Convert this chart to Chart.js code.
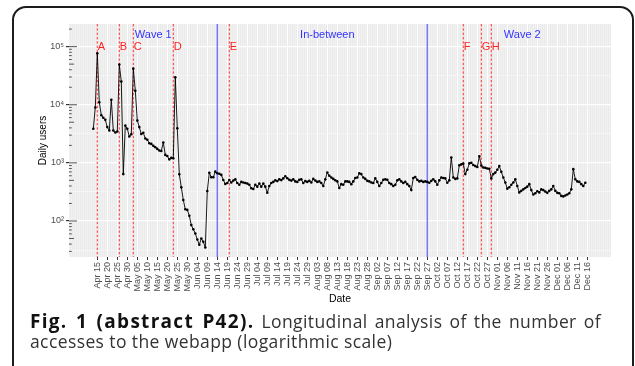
<!DOCTYPE html>
<html>
<head>
<meta charset="utf-8">
<script src="https://cdn.jsdelivr.net/npm/chart.js@4.4.1/dist/chart.umd.min.js"></script>
<style>
html,body{margin:0;padding:0;background:#fff;width:635px;height:366px;overflow:hidden;}
#frame{position:absolute;left:12px;top:5.5px;width:622px;height:390px;border:2px solid #1c1c1c;border-radius:14px;box-sizing:border-box;}
#chart{position:absolute;left:0;top:0;}
#caption{position:absolute;left:30px;top:310.6px;width:571px;font-family:'Open Sans',sans-serif;font-size:17.5px;line-height:20.6px;letter-spacing:0.4px;color:#333;}
#caption .l1{text-align:justify;text-align-last:justify;white-space:nowrap;}
#caption .l2{white-space:nowrap;}
#caption b{color:#111;font-weight:700;font-size:19px;letter-spacing:1.3px;}
</style>
</head>
<body>
<div id="frame"></div>
<canvas id="chart" width="635" height="310"></canvas>
<div id="caption"><div class="l1"><b>Fig. 1 (abstract P42).</b> Longitudinal analysis of the number of</div><div class="l2">accesses to the webapp (logarithmic scale)</div></div>
<script>
// ---- data (day 0 = Apr 15) ----
const firstDay = -2; // first observation: Apr 13
const dailyUsers = [
  3860, 8980, 77000, 11000, 6600, 5970, 5500, 4120, 3600, 12200,
  3600, 3320, 3470, 49000, 25000, 640, 4380, 3860, 2840, 3100,
  41800, 17400, 5330, 4120, 3130, 3290, 2630, 2500, 2180, 2120,
  1960, 1860, 1740, 1630, 1600, 2240, 1370, 1310, 1150, 1220,
  1200, 29700, 3940, 637, 380, 230, 159, 155, 123, 85,
  72, 61, 48, 39, 50, 44, 35, 328, 677, 565,
  565, 706, 662, 650, 620, 508, 434, 450, 508, 460,
  495, 520, 450, 420, 470, 460, 450, 440, 420, 365,
  355, 420, 390, 440, 390, 440, 390, 307, 400, 450,
  470, 500, 485, 520, 505, 540, 590, 545, 510, 495,
  520, 480, 470, 510, 520, 450, 485, 470, 490, 460,
  530, 495, 470, 480, 450, 400, 520, 680, 600, 560,
  530, 500, 480, 370, 430, 420, 480, 480, 470, 430,
  480, 550, 560, 660, 640, 560, 530, 490, 480, 460,
  450, 540, 470, 400, 450, 510, 520, 510, 450, 430,
  400, 420, 500, 520, 480, 450, 470, 430, 400, 340,
  550, 570, 510, 480, 490, 470, 480, 470, 455, 490,
  520, 480, 420, 500, 560, 550, 540, 455, 500, 1240,
  560, 530, 540, 910, 940, 970, 640, 760, 980, 1000,
  920, 880, 850, 1300, 900, 830, 820, 800, 790, 540,
  640, 680, 760, 880, 700, 560, 460, 360, 380, 420,
  460, 520, 400, 310, 330, 350, 370, 390, 430, 340,
  285, 300, 325, 310, 350, 340, 320, 305, 330, 350,
  400, 330, 305, 300, 270, 265, 275, 285, 300, 350,
  780, 520, 480, 470, 430, 400, 455
];
const xTickStep = 5;
const xTickLabels = ['Apr 15','Apr 20','Apr 25','Apr 30','May 05','May 10','May 15','May 20','May 25','May 30',
  'Jun 04','Jun 09','Jun 14','Jun 19','Jun 24','Jun 29','Jul 04','Jul 09','Jul 14','Jul 19',
  'Jul 24','Jul 29','Aug 03','Aug 08','Aug 13','Aug 18','Aug 23','Aug 28','Sep 02','Sep 07',
  'Sep 12','Sep 17','Sep 22','Sep 27','Oct 02','Oct 07','Oct 12','Oct 17','Oct 22','Oct 27',
  'Nov 01','Nov 06','Nov 11','Nov 16','Nov 21','Nov 26','Dec 01','Dec 06','Dec 11','Dec 16'];
const eventLetters = ['A','B','C','D','E','F','G','H'];
const eventDays = [0, 11, 18, 38, 66, 183, 192, 197];
const eventLabelY = 100000;
const phaseBoundaryDays = [60, 165];
const phaseNames = ['Wave 1','In-between','Wave 2'];
const phaseLabelDays = [28, 115, 212.5];
const phaseLabelY = 160000;
const yTickValues = [100, 1000, 10000, 100000];
const yTickLabels = ['10\u00B2','10\u00B3','10\u2074','10\u2075'];
const yGridExponents = [1.5, 2, 2.5, 3, 3.5, 4, 4.5, 5];
const xRange = [-14.15, 256.85];
const yRange = [24, 245000];

// ---- chart ----
const FONT = "'Liberation Sans', Arial, sans-serif";
Chart.defaults.font.family = FONT;

const points = dailyUsers.map((v, i) => ({x: firstDay + i, y: v}));
const isXMajor = v => Number.isInteger(v / xTickStep) && v >= 0 && v / xTickStep < xTickLabels.length;
const isYMajor = v => yTickValues.includes(v);

const decorations = {
  id: 'decorations',
  beforeDraw(chart) {
    const {ctx, chartArea: a} = chart;
    ctx.save();
    ctx.fillStyle = '#EBEBEB';
    ctx.fillRect(a.left, a.top, a.right - a.left, a.bottom - a.top);
    ctx.restore();
  },
  beforeDatasetsDraw(chart) {
    const {ctx, chartArea: a} = chart;
    const xs = chart.scales.x, ys = chart.scales.y;
    ctx.save();
    ctx.beginPath();
    ctx.rect(a.left, a.top, a.right - a.left, a.bottom - a.top);
    ctx.clip();
    // phase boundaries
    ctx.strokeStyle = '#7878FF';
    ctx.lineWidth = 1.5;
    phaseBoundaryDays.forEach(d => {
      const x = xs.getPixelForValue(d);
      ctx.beginPath(); ctx.moveTo(x, a.top); ctx.lineTo(x, a.bottom); ctx.stroke();
    });
    // events
    ctx.strokeStyle = 'rgba(255,20,20,0.85)';
    ctx.lineWidth = 1;
    ctx.setLineDash([2.5, 1.8]);
    eventDays.forEach(d => {
      const x = xs.getPixelForValue(d);
      ctx.beginPath(); ctx.moveTo(x, a.top); ctx.lineTo(x, a.bottom); ctx.stroke();
    });
    ctx.setLineDash([]);
    // log ticks on the left side
    ctx.strokeStyle = '#444';
    ctx.lineWidth = 0.9;
    for (let k = 1; k <= 5; k++) {
      for (let m = 1; m <= 9; m++) {
        const v = m * Math.pow(10, k);
        if (v < ys.min || v > ys.max) continue;
        const y = ys.getPixelForValue(v);
        const len = m === 1 ? 8 : (m === 5 ? 5 : 2.8);
        ctx.beginPath(); ctx.moveTo(a.left, y); ctx.lineTo(a.left + len, y); ctx.stroke();
      }
    }
    ctx.restore();
  },
  afterDatasetsDraw(chart) {
    const {ctx} = chart;
    const xs = chart.scales.x, ys = chart.scales.y;
    ctx.save();
    ctx.font = '11px ' + FONT;
    ctx.textBaseline = 'middle';
    ctx.textAlign = 'left';
    ctx.fillStyle = '#FF1E1E';
    const ly = ys.getPixelForValue(eventLabelY);
    eventLetters.forEach((t, i) => ctx.fillText(t, xs.getPixelForValue(eventDays[i]) + 0.5, ly));
    ctx.textAlign = 'center';
    ctx.fillStyle = '#3333FF';
    const py = ys.getPixelForValue(phaseLabelY);
    phaseNames.forEach((t, i) => ctx.fillText(t, xs.getPixelForValue(phaseLabelDays[i]), py));
    ctx.restore();
  }
};

new Chart(document.getElementById('chart'), {
  type: 'line',
  data: {
    datasets: [{
      data: points,
      borderColor: '#000',
      borderWidth: 0.9,
      pointRadius: 1.3,
      pointHoverRadius: 1.3,
      pointBackgroundColor: '#000',
      pointBorderWidth: 0,
      tension: 0,
      fill: false
    }]
  },
  options: {
    responsive: false,
    animation: false,
    devicePixelRatio: 1,
    layout: {padding: {left: 0, top: 24, right: 24, bottom: 0}},
    plugins: {legend: {display: false}, tooltip: {enabled: false}},
    events: [],
    scales: {
      x: {
        type: 'linear',
        min: xRange[0], max: xRange[1],
        bounds: 'data',
        afterBuildTicks: s => {
          const t = [];
          for (let d = Math.ceil(xRange[0]); d <= Math.floor(xRange[1]); d++) t.push({value: d});
          s.ticks = t;
        },
        afterFit: s => { s.height = 53; },
        border: {display: false},
        grid: {
          color: c => isXMajor(c.tick.value) ? '#FFFFFF' : '#F1F1F1',
          lineWidth: 1,
          tickColor: c => isXMajor(c.tick.value) ? '#333333' : 'rgba(0,0,0,0)',
          tickLength: 3,
          drawTicks: true
        },
        ticks: {
          autoSkip: false,
          minRotation: 90, maxRotation: 90,
          padding: 2,
          color: '#4D4D4D',
          font: {size: 9},
          callback: v => isXMajor(v) ? xTickLabels[v / xTickStep] : ''
        },
        title: {display: true, text: 'Date', color: '#000', font: {size: 10.5}, padding: {top: 0, bottom: 5}}
      },
      y: {
        type: 'logarithmic',
        min: yRange[0], max: yRange[1],
        bounds: 'data',
        afterBuildTicks: s => { s.ticks = yGridExponents.map(e => ({value: Math.pow(10, e)})); },
        afterFit: s => { s.width = 69; },
        border: {display: false},
        grid: {
          color: c => isYMajor(c.tick.value) ? '#FFFFFF' : '#F5F5F5',
          lineWidth: c => isYMajor(c.tick.value) ? 1.2 : 1,
          tickColor: c => isYMajor(c.tick.value) ? '#333333' : 'rgba(0,0,0,0)',
          tickLength: 3,
          drawTicks: true
        },
        ticks: {
          autoSkip: false,
          padding: 2,
          color: '#4D4D4D',
          font: {size: 9},
          callback: v => { const i = yTickValues.indexOf(v); return i >= 0 ? yTickLabels[i] : ''; }
        },
        title: {display: true, text: 'Daily users', color: '#000', font: {size: 10}, padding: {top: 37.5, bottom: 0}}
      }
    }
  },
  plugins: [decorations]
});
</script>
</body>
</html>
